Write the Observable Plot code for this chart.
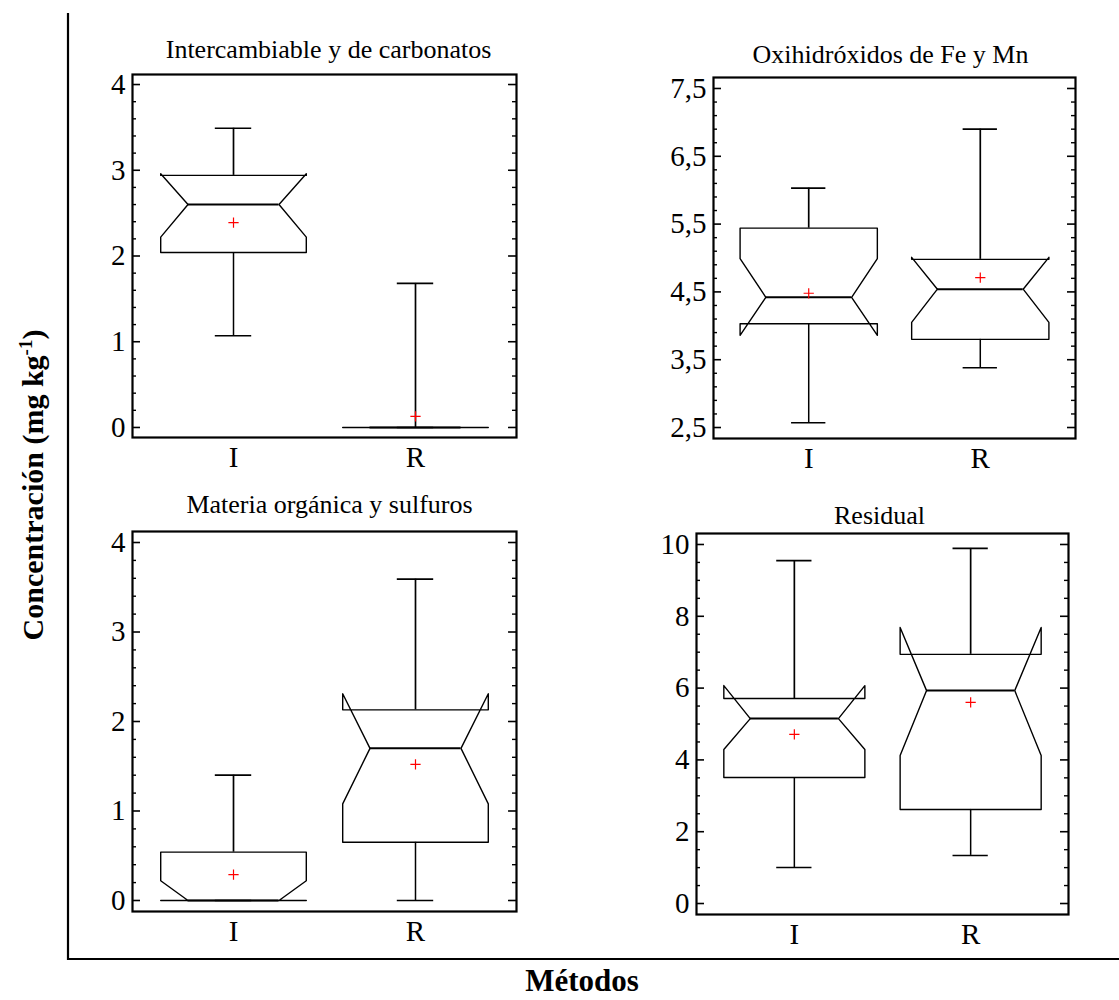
<!DOCTYPE html>
<html>
<head>
<meta charset="utf-8">
<script src="https://cdn.jsdelivr.net/npm/d3@7"></script>
<script src="https://cdn.jsdelivr.net/npm/@observablehq/plot@0.6"></script>
<style>
  body { margin: 0; background: #fff; }
  #root { position: relative; width: 1119px; height: 1000px; background: #fff; font-family: "Liberation Serif", "Times New Roman", serif; }
  .panel { position: absolute; }
</style>
</head>
<body>
<div id="root"></div>
<script>
// ---------------- DATA ----------------
const methods = ["I", "R"];
const titles = [
  "Intercambiable y de carbonatos",
  "Oxihidróxidos de Fe y Mn",
  "Materia orgánica y sulfuros",
  "Residual"
];
const yAxisLabel = "Concentración (mg kg";
const xAxisLabel = "Métodos";

// Intercambiable y de carbonatos (I, R)
const p1WhiskerLow  = [1.07, 0];
const p1Q1          = [2.04, 0];
const p1NotchLow    = [2.22, 0];
const p1Median      = [2.60, 0];
const p1NotchHigh   = [2.96, 0];
const p1Q3          = [2.94, 0];
const p1WhiskerHigh = [3.49, 1.68];
const p1Mean        = [2.39, 0.13];
const p1Ticks       = [0, 1, 2, 3, 4];

// Oxihidróxidos de Fe y Mn (I, R)
const p2WhiskerLow  = [2.57, 3.38];
const p2Q1          = [4.03, 3.80];
const p2NotchLow    = [3.86, 4.05];
const p2Median      = [4.42, 4.54];
const p2NotchHigh   = [4.99, 5.01];
const p2Q3          = [5.44, 4.98];
const p2WhiskerHigh = [6.03, 6.90];
const p2Mean        = [4.48, 4.71];
const p2Ticks       = [2.5, 3.5, 4.5, 5.5, 6.5, 7.5];

// Materia orgánica y sulfuros (I, R)
const p3WhiskerLow  = [0, 0];
const p3Q1          = [0, 0.65];
const p3NotchLow    = [0, 1.08];
const p3Median      = [0, 1.70];
const p3NotchHigh   = [0.22, 2.31];
const p3Q3          = [0.54, 2.13];
const p3WhiskerHigh = [1.40, 3.59];
const p3Mean        = [0.29, 1.52];
const p3Ticks       = [0, 1, 2, 3, 4];

// Residual (I, R)
const p4WhiskerLow  = [1.00, 1.34];
const p4Q1          = [3.51, 2.62];
const p4NotchLow    = [4.29, 4.12];
const p4Median      = [5.15, 5.93];
const p4NotchHigh   = [6.07, 7.69];
const p4Q3          = [5.71, 6.94];
const p4WhiskerHigh = [9.55, 9.89];
const p4Mean        = [4.71, 5.60];
const p4Ticks       = [0, 2, 4, 6, 8, 10];

// ---------------- build tables ----------------
function table(wl, q1, nl, md, nh, q3, wh, mean) {
  return methods.map((m, i) => ({
    method: m, pos: i,
    whiskerLow: wl[i], q1: q1[i], notchLow: nl[i], median: md[i],
    notchHigh: nh[i], q3: q3[i], whiskerHigh: wh[i], mean: mean[i]
  }));
}
const panels = [
  { title: titles[0], data: table(p1WhiskerLow, p1Q1, p1NotchLow, p1Median, p1NotchHigh, p1Q3, p1WhiskerHigh, p1Mean),
    ticks: p1Ticks, minorStep: 0.2, left: 132, top: 74, fw: 384, fh: 363, pad: 0.117, tdy: -17, tdx: 4 },
  { title: titles[1], data: table(p2WhiskerLow, p2Q1, p2NotchLow, p2Median, p2NotchHigh, p2Q3, p2WhiskerHigh, p2Mean),
    ticks: p2Ticks, minorStep: 0.2, left: 713, top: 77, fw: 362, fh: 361, pad: 0.162, tdy: -15, tdx: -4 },
  { title: titles[2], data: table(p3WhiskerLow, p3Q1, p3NotchLow, p3Median, p3NotchHigh, p3Q3, p3WhiskerHigh, p3Mean),
    ticks: p3Ticks, minorStep: 0.2, left: 132, top: 531, fw: 384, fh: 380, pad: 0.123, tdy: -19, tdx: 5 },
  { title: titles[3], data: table(p4WhiskerLow, p4Q1, p4NotchLow, p4Median, p4NotchHigh, p4Q3, p4WhiskerHigh, p4Mean),
    ticks: p4Ticks, minorStep: 0.5, left: 696, top: 533, fw: 372, fh: 381, pad: 0.306, tdy: -10, tdx: -3 }
];

// ---------------- styling constants ----------------
const HALF = 0.4;     // box half width (x units)
const NOTCH = 0.25;   // notch inner half width
const CAP = 0.1;      // whisker cap half width
const ML = 70, MR = 12, MT = 50, MB = 45;
const FONT = "Liberation Serif";
const TICKFONT = 29;
const fmt = d => String(d).replace(".", ",");

function outline(d) {
  const c = d.pos;
  const pts = [
    [c - HALF, d.q1], [c - HALF, d.notchLow], [c - NOTCH, d.median], [c - HALF, d.notchHigh], [c - HALF, d.q3],
    [c + HALF, d.q3], [c + HALF, d.notchHigh], [c + NOTCH, d.median], [c + HALF, d.notchLow], [c + HALF, d.q1],
    [c - HALF, d.q1]
  ];
  return pts.map(([x, y]) => ({ method: d.method, x, y }));
}

const root = document.getElementById("root");

for (const p of panels) {
  const major = p.ticks;
  const lo = major[0], hi = major[major.length - 1];
  const minor = d3.range(lo, hi + 1e-9, p.minorStep)
    .map(v => Math.round(v * 100) / 100)
    .filter(v => !major.some(m => Math.abs(m - v) < 1e-6));
  const poly = p.data.flatMap(outline);

  const chart = Plot.plot({
    width: p.fw + ML + MR,
    height: p.fh + MT + MB,
    marginLeft: ML, marginRight: MR, marginTop: MT, marginBottom: MB,
    x: { domain: [-0.555, 1.555] },
    y: { domain: [lo - p.pad, hi + p.pad] },
    style: { fontFamily: FONT, fontSize: TICKFONT + "px", color: "#000", background: "transparent", overflow: "visible" },
    marks: [
      // inward ticks, left and right
      Plot.tickY(minor, { y: d => d, insetRight: p.fw - 4, stroke: "#000", strokeWidth: 1.4 }),
      Plot.tickY(minor, { y: d => d, insetLeft: p.fw - 4, stroke: "#000", strokeWidth: 1.4 }),
      Plot.tickY(major, { y: d => d, insetRight: p.fw - 8, stroke: "#000", strokeWidth: 1.6 }),
      Plot.tickY(major, { y: d => d, insetLeft: p.fw - 8, stroke: "#000", strokeWidth: 1.6 }),
      // whiskers
      Plot.ruleX(p.data, { x: "pos", y1: "q3", y2: "whiskerHigh", stroke: "#000", strokeWidth: 1.7 }),
      Plot.ruleX(p.data, { x: "pos", y1: "q1", y2: "whiskerLow", stroke: "#000", strokeWidth: 1.5 }),
      Plot.ruleY(p.data, { y: "whiskerHigh", x1: d => d.pos - CAP, x2: d => d.pos + CAP, stroke: "#000", strokeWidth: 1.7 }),
      Plot.ruleY(p.data, { y: "whiskerLow", x1: d => d.pos - CAP, x2: d => d.pos + CAP, stroke: "#000", strokeWidth: 1.5 }),
      // notched box
      Plot.line(poly, { x: "x", y: "y", z: "method", stroke: "#000", strokeWidth: 1.4, curve: "linear" }),
      // median
      Plot.ruleY(p.data, { y: "median", x1: d => d.pos - NOTCH, x2: d => d.pos + NOTCH, stroke: "#000", strokeWidth: 2 }),
      // mean
      Plot.dot(p.data, { x: "pos", y: "mean", symbol: "plus", r: 3.4, stroke: "#ff0000", strokeWidth: 1.2 }),
      // frame and axes
      Plot.frame({ stroke: "#000", strokeWidth: 2.2 }),
      Plot.axisY({ ticks: major, tickSize: 0, tickPadding: 7, tickFormat: fmt, label: null, fontSize: TICKFONT, fontFamily: FONT }),
      Plot.axisX({ ticks: [0, 1], tickSize: 0, tickPadding: 9, tickFormat: i => methods[i], label: null, fontSize: TICKFONT, fontFamily: FONT }),
      // panel title
      Plot.text([p.title], { text: d => d, frameAnchor: "top", lineAnchor: "top", dy: p.tdy - 0.71 * 26, dx: p.tdx, fontSize: 26, fontFamily: FONT, fill: "#000" })
    ]
  });
  chart.classList.add("panel");
  chart.style.left = (p.left - ML) + "px";
  chart.style.top = (p.top - MT) + "px";
  root.appendChild(chart);
}

// ---------------- outer axis frame and global labels ----------------
const ns = "http://www.w3.org/2000/svg";
const over = document.createElementNS(ns, "svg");
over.setAttribute("width", 1119);
over.setAttribute("height", 1000);
over.style.position = "absolute";
over.style.left = "0px";
over.style.top = "0px";
over.style.pointerEvents = "none";
over.innerHTML = `
  <line x1="68" y1="13" x2="68" y2="960" stroke="#000" stroke-width="2.2"/>
  <line x1="67" y1="959" x2="1119" y2="959" stroke="#000" stroke-width="2.2"/>
  <text transform="translate(43,485) rotate(-90)" text-anchor="middle" font-family="${FONT}" font-weight="bold" font-size="30">${yAxisLabel}<tspan font-size="19" dy="-11">-1</tspan><tspan dy="11">)</tspan></text>
  <text x="582" y="991" text-anchor="middle" font-family="${FONT}" font-weight="bold" font-size="31">${xAxisLabel}</text>
`;
root.appendChild(over);
</script>
</body>
</html>
